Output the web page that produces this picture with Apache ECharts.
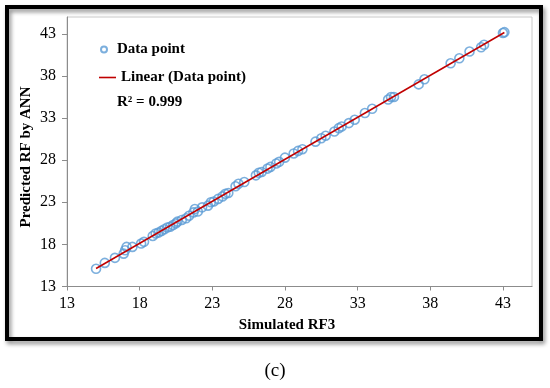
<!DOCTYPE html>
<html>
<head>
<meta charset="utf-8">
<script src="https://cdn.jsdelivr.net/npm/echarts@6/dist/echarts.min.js"></script>
<style>
html,body{margin:0;padding:0;background:#fff;}
#c{width:550px;height:388px;}
</style>
</head>
<body>
<div id="c"></div>
<script>
// Simulated RF3 (x) and Predicted RF by ANN (y)
var simulated = [15.0,15.6,16.3,16.9,17.0,17.1,17.5,18.1,18.3,18.9,19.1,19.3,19.5,19.7,19.9,20.1,20.3,20.5,20.6,20.9,21.2,21.4,21.7,21.8,22.0,22.3,22.7,22.9,23.1,23.4,23.7,23.9,24.1,24.6,24.8,25.2,26.0,26.2,26.4,26.8,27.0,27.4,27.6,28.0,28.6,28.9,29.2,30.1,30.5,30.8,31.4,31.7,31.9,32.4,32.8,33.5,34.0,35.1,35.3,35.5,37.2,37.6,39.4,40.0,40.7,41.5,41.7,43.0,43.1];
var predicted = [15.1,15.8,16.4,16.9,17.3,17.7,17.7,18.1,18.3,19.0,19.3,19.4,19.6,19.8,20.0,20.1,20.3,20.5,20.7,20.9,21.1,21.4,21.8,22.2,21.9,22.4,22.6,23.0,23.1,23.4,23.7,24.0,24.1,24.9,25.2,25.4,26.2,26.5,26.6,27.0,27.2,27.6,27.8,28.3,28.8,29.1,29.3,30.2,30.6,30.9,31.4,31.8,32.0,32.4,32.8,33.6,34.1,35.2,35.5,35.5,37.0,37.6,39.5,40.1,40.9,41.4,41.7,43.1,43.2];
var axisTicks = [13,18,23,28,33,38,43];
var r2Label = 'R² = 0.999';

var pts = simulated.map(function(x,i){return [x, predicted[i]];});
// least-squares trendline from the data
var n = simulated.length, sx=0, sy=0, sxx=0, sxy=0;
for (var i=0;i<n;i++){sx+=simulated[i];sy+=predicted[i];sxx+=simulated[i]*simulated[i];sxy+=simulated[i]*predicted[i];}
var slope=(n*sxy-sx*sy)/(n*sxx-sx*sx), icpt=(sy-slope*sx)/n;
var xmin=Math.min.apply(null,simulated), xmax=Math.max.apply(null,simulated);
var trend=[[xmin,icpt+slope*xmin],[xmax,icpt+slope*xmax]];

var font='"Liberation Serif","Times New Roman",serif';
var chart = echarts.init(document.getElementById('c'));
chart.setOption({
  backgroundColor:'#fff',
  animation:false,
  textStyle:{fontFamily:font},
  grid:{left:67,top:17,width:465,height:269.5,show:true,borderColor:'#c8c8c8',borderWidth:1},
  xAxis:{type:'value',min:13,max:45,
    axisLine:{show:true,onZero:false,lineStyle:{color:'#8c8c8c',width:1}},
    axisTick:{show:true,inside:false,length:4,customValues:axisTicks,lineStyle:{color:'#8c8c8c'}},
    axisLabel:{customValues:axisTicks,color:'#000',fontSize:16,fontFamily:font,margin:9},
    splitLine:{show:false}},
  yAxis:{type:'value',min:13,max:45,
    axisLine:{show:true,onZero:false,lineStyle:{color:'#8c8c8c',width:1}},
    axisTick:{show:true,inside:false,length:5,customValues:axisTicks,lineStyle:{color:'#8c8c8c'}},
    axisLabel:{customValues:axisTicks,color:'#000',fontSize:16,fontFamily:font,margin:11},
    splitLine:{show:false}},
  legend:[
    {data:[{name:'Data point'}],left:100,top:42,itemWidth:16,itemHeight:6,itemGap:0,padding:0,
      textStyle:{fontFamily:font,fontWeight:'bold',fontSize:15,color:'#000'}},
    {data:[{name:'Linear (Data point)',icon:'rect'}],left:99,top:70,itemWidth:17,itemHeight:1.6,itemGap:0,padding:0,
      itemStyle:{color:'#c00000'},
      textStyle:{fontFamily:font,fontWeight:'bold',fontSize:15,color:'#000'}}
  ],
  graphic:[
    {type:'rect',shape:{x:7,y:7,width:534,height:332},
      style:{fill:null,stroke:'#000',lineWidth:4,shadowBlur:4,shadowColor:'rgba(0,0,0,0.45)',shadowOffsetX:2,shadowOffsetY:3},z:-1},
    {type:'text',left:117,top:95,style:{text:r2Label,font:'bold 15px '+font,fill:'#000'}},
    {type:'text',x:26,y:157,rotation:Math.PI/2,style:{text:'Predicted RF by ANN',font:'bold 15px '+font,fill:'#000',align:'center',verticalAlign:'middle'}},
    {type:'text',x:287,y:325,style:{text:'Simulated RF3',font:'bold 15px '+font,fill:'#000',align:'center',verticalAlign:'middle'}},
    {type:'text',x:275,y:371,style:{text:'(c)',font:'19px '+font,fill:'#000',align:'center',verticalAlign:'middle'}}
  ],
  series:[
    {name:'Data point',type:'scatter',data:pts,symbol:'circle',symbolSize:9,
      itemStyle:{color:'rgba(255,255,255,0)',borderColor:'#5b9bd5',borderWidth:1.6},z:2},
    {name:'Linear (Data point)',type:'line',data:trend,symbol:'none',showSymbol:false,
      lineStyle:{color:'#c00000',width:1.5},itemStyle:{color:'#c00000'},z:3}
  ]
});
</script>
</body>
</html>
